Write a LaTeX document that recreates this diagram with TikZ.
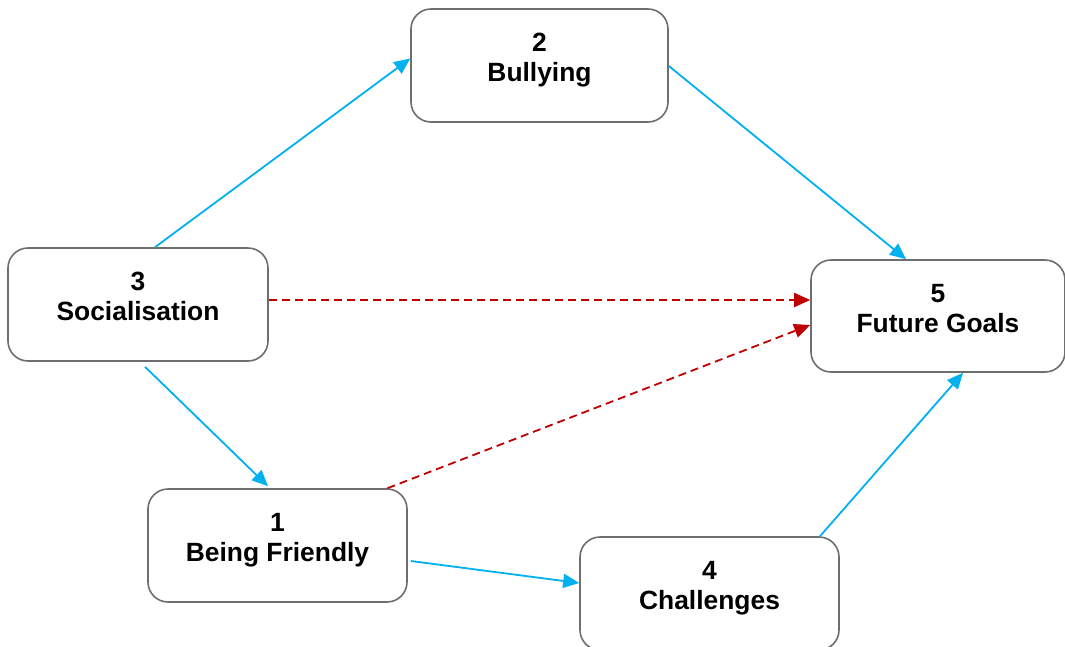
\documentclass[tikz,border=0pt]{standalone}
\usepackage{fontspec}
\setmainfont{Liberation Sans}
\usetikzlibrary{arrows.meta,calc}
\definecolor{linkblue}{HTML}{00B0F0}
\definecolor{linkred}{HTML}{C00000}
\definecolor{boxgray}{HTML}{6E6E6E}
\begin{document}
\begin{tikzpicture}[x=1pt,y=-1pt,
  themebox/.style={draw=boxgray, line width=1.6pt, rounded corners=20pt, fill=white,
    minimum width=258pt, minimum height=113pt, align=center, text depth=15.5pt,
    font=\fontsize{26.4}{30}\selectfont\bfseries, inner sep=0pt},
  direct/.style={draw=linkblue, line width=1.8pt, -{Triangle[length=16pt,width=14pt]}},
  indirect/.style={draw=linkred, line width=1.8pt, dash pattern=on 8pt off 5pt,
    -{Triangle[length=16pt,width=14pt]}}]
\useasboundingbox (0,0) rectangle (1065,646);
\clip (0,0) rectangle (1065,646);

% themes
\node[themebox, minimum width=257pt] (b2) at (539.5,65.5) {2\\Bullying};
\node[themebox, minimum width=260pt] (b3) at (138,304.5) {3\\Socialisation};
\node[themebox, minimum width=254pt, minimum height=112pt] (b5) at (938,316) {5\\Future Goals};
\node[themebox, minimum width=259pt] (b1) at (277.5,545.5) {1\\Being Friendly};
\node[themebox, minimum width=259pt] (b4) at (709.5,593.5) {4\\Challenges};

% direct links
\draw[direct] ($(b3.north)+(17,0)$) -- ($(b2.west)+(0,-7)$);
\draw[direct] ($(b2.east)+(0,0.5)$) -- ($(b5.north)+(-32,0)$);
\draw[direct] ($(b3.south)+(7,5)$) -- ($(b1.north)+(-9.5,-2)$);
\draw[direct] ($(b1.east)+(3,15.5)$) -- ($(b4.west)+(0,-10.5)$);
\draw[direct] ($(b4.north)+(110.5,0)$) -- ($(b5.south)+(25,0)$);

% indirect links
\draw[indirect] ($(b3.east)+(0,-4.5)$) -- ($(b5.west)+(0,-16)$);
\draw[indirect] ($(b1.north)+(110,0)$) -- ($(b5.west)+(0,9)$);
\end{tikzpicture}
\end{document}
